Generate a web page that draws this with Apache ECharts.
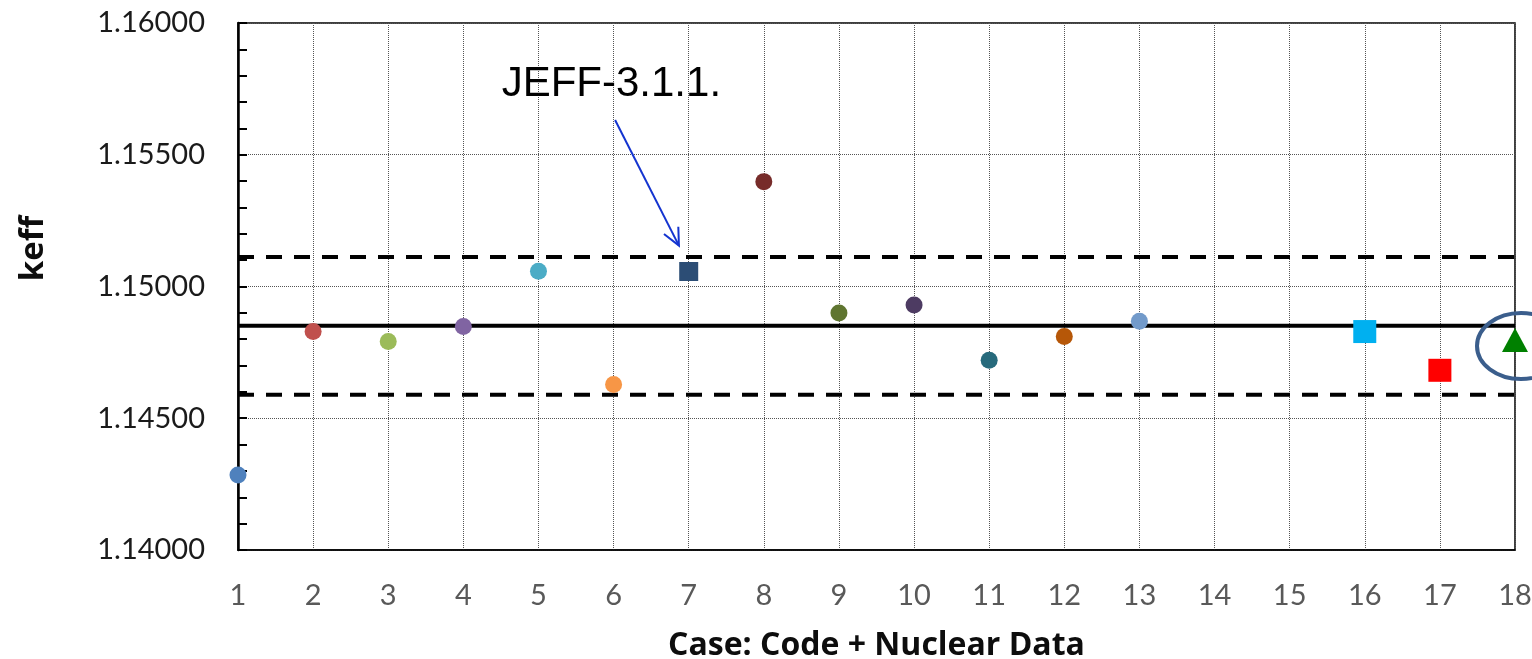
<!DOCTYPE html>
<html><head><meta charset="utf-8">
<script src="https://cdn.jsdelivr.net/npm/echarts@6/dist/echarts.min.js"></script>
<style>html,body{margin:0;padding:0;background:#fff}#c{width:1532px;height:659px}</style>
</head><body><div id="c"></div>
<script>
// ---- data ----
const caseLabels = ['1','2','3','4','5','6','7','8','9','10','11','12','13','14','15','16','17','18'];
const cases = [1,2,3,4,5,6,7,8,9,10,11,12,13,16,17,18];
const keff = [1.14285,1.14829,1.14791,1.14848,1.15058,1.14628,1.15057,1.15398,1.14899,1.14930,1.14720,1.14810,1.14868,1.14829,1.14682,1.14797];
const pointColors = ['#4f81bd','#c0504d','#9bbb59','#8064a2','#4bacc6','#f79646','#2c4d75','#772c2a','#5f7530','#4d3b62','#276a7c','#b65708','#729aca','#00b0f0','#ff0000','#008000'];
const pointShapes = ['circle','circle','circle','circle','circle','circle','rect','circle','circle','circle','circle','circle','circle','rect','rect','triangle'];
const meanKeff = 1.14851;
const upperBand = 1.15112;
const lowerBand = 1.14589;
const yMin = 1.14, yMax = 1.16, yStep = 0.005;
const annotationText = 'JEFF-3.1.1.';
const annotationTextAt = [4.51, 1.15768];
const arrowFrom = [6.02, 1.15632];
const arrowTo = [6.87, 1.15155];
const highlightAt = [18.08, 1.14774];

const sizeFor = {circle: 17, rect: 23, triangle: [26, 24]};
const points = cases.map((c, i) => ({
  value: [c, keff[i]],
  symbol: pointShapes[i],
  symbolSize: (c === 7) ? 19 : sizeFor[pointShapes[i]],
  itemStyle: {color: pointColors[i], opacity: 1}
}));
const xFirst = cases[0], xLast = caseLabels.length;
function hline(v, type) {
  return {
    type: 'line', data: [[xFirst, v], [xLast, v]], symbol: 'none', silent: true, z: 3,
    lineStyle: {color: '#000', width: 4, type: type}
  };
}

const chart = echarts.init(document.getElementById('c'), null, {renderer: 'canvas'});
const F = 'Lato, "Open Sans", sans-serif';
const FT = '"Open Sans", Lato, sans-serif';
chart.setOption({
  animation: false,
  backgroundColor: '#fff',
  grid: {left: 238, right: 17, top: 23, bottom: 109, show: true, borderColor: '#000', borderWidth: 1.5,
    containLabel: false, outerBoundsMode: 'none'},
  xAxis: {
    type: 'value', min: 1, max: 18, interval: 1,
    name: 'Case: Code + Nuclear Data', nameLocation: 'middle', nameGap: 80,
    nameTextStyle: {fontFamily: FT, fontWeight: 'bold', fontSize: 32, color: '#0d0d0d'},
    axisLine: {lineStyle: {color: '#000', width: 1.5}},
    axisTick: {show: false},
    axisLabel: {fontFamily: F, fontSize: 29, color: '#595959', margin: 31,
      formatter: v => caseLabels[v - 1]},
    splitLine: {show: true, lineStyle: {color: '#555', width: 1, type: 'dotted'}}
  },
  yAxis: {
    type: 'value', min: yMin, max: yMax, interval: yStep,
    name: 'keff', nameLocation: 'middle', nameGap: 188, nameRotate: 90,
    nameTextStyle: {fontFamily: FT, fontWeight: 'bold', fontSize: 33, color: '#0d0d0d', padding: [0, 0, 0, 76]},
    axisLine: {show: true, lineStyle: {color: '#000', width: 2.5}},
    axisTick: {show: true, inside: true, length: 9, lineStyle: {color: '#000', width: 2}},
    minorTick: {show: true, splitNumber: 5, length: 9, lineStyle: {color: '#000', width: 2}},
    axisLabel: {fontFamily: F, fontSize: 29, color: '#1a1a1a', margin: 33,
      formatter: v => v.toFixed(5)},
    splitLine: {show: true, lineStyle: {color: '#555', width: 1, type: 'dotted'}}
  },
  series: [
    hline(upperBand, [16, 12]),
    hline(meanKeff, 'solid'),
    hline(lowerBand, [16, 12]),
    {type: 'scatter', data: points, z: 5}
  ]
});

const p = (pt) => chart.convertToPixel({gridIndex: 0}, pt);
const t = p(annotationTextAt), a0 = p(arrowFrom), a1 = p(arrowTo), h = p(highlightAt);
const dx = a0[0] - a1[0], dy = a0[1] - a1[1], L = Math.hypot(dx, dy);
const ux = dx / L, uy = dy / L, ang = 25 * Math.PI / 180, wl = 19;
function rot(x, y, a) { return [x * Math.cos(a) - y * Math.sin(a), x * Math.sin(a) + y * Math.cos(a)]; }
const w1 = rot(ux, uy, ang), w2 = rot(ux, uy, -ang);
chart.setOption({
  graphic: [
    {type: 'text', x: t[0], y: t[1], z: 10,
      style: {text: annotationText, font: '42px "Liberation Sans", Arial, sans-serif', fill: '#000', verticalAlign: 'middle', align: 'left'}},
    {type: 'line', z: 10, shape: {x1: a0[0], y1: a0[1], x2: a1[0], y2: a1[1]}, style: {stroke: '#1434d0', lineWidth: 2}},
    {type: 'polyline', z: 10, shape: {points: [[a1[0] + w1[0] * wl, a1[1] + w1[1] * wl], a1, [a1[0] + w2[0] * wl, a1[1] + w2[1] * wl]]},
      style: {stroke: '#1434d0', lineWidth: 2, fill: null}},
    {type: 'ellipse', z: 10, shape: {cx: h[0], cy: h[1], rx: 44, ry: 33}, style: {stroke: '#3b5e8c', lineWidth: 4, fill: null}}
  ]
});
</script>
</body></html>
